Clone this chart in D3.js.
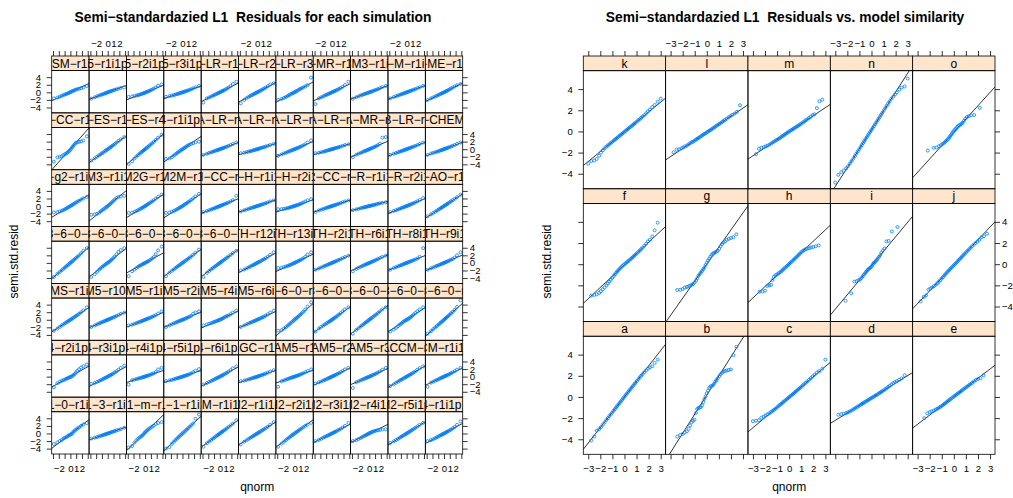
<!DOCTYPE html>
<html>
<head>
<meta charset="utf-8">
<script src="https://cdn.jsdelivr.net/npm/d3@7/dist/d3.min.js"></script>
<style>
  html, body { margin: 0; padding: 0; background: #fff; }
  svg text { font-family: "Liberation Sans", Arial, Helvetica, sans-serif; }
</style>
</head>
<body>
<svg id="fig" width="1013" height="498"></svg>
<script>
// Normal quantiles at which the sample quantiles of each panel are plotted
const qSim = [-2.85,-2.25,-1.85,-1.5,-1.22,-0.97,-0.74,-0.53,-0.34,-0.17,0,0.17,0.34,0.53,0.74,0.97,1.22,1.5,1.85,2.25,2.85];
const qGroup300 = [-3.0,-2.75,-2.5,-2.3,-2.1,-1.95,-1.8,-1.65,-1.5,-1.38,-1.26,-1.14,-1.02,-0.9,-0.8,-0.7,-0.6,-0.5,-0.4,-0.3,-0.2,-0.1,0,0.1,0.2,0.3,0.4,0.5,0.6,0.7,0.8,0.9,1.02,1.14,1.26,1.38,1.5,1.65,1.8,1.95,2.1,2.3,2.5,2.75,3.0];
const qGroup275 = [-2.75,-2.5,-2.3,-2.1,-1.95,-1.8,-1.65,-1.5,-1.38,-1.26,-1.14,-1.02,-0.9,-0.8,-0.7,-0.6,-0.5,-0.4,-0.3,-0.2,-0.1,0,0.1,0.2,0.3,0.4,0.5,0.6,0.7,0.8,0.9,1.02,1.14,1.26,1.38,1.5,1.65,1.8,1.95,2.1,2.3,2.5,2.75];
const qGroup245 = [-2.45,-2.2,-2.0,-1.82,-1.65,-1.5,-1.38,-1.26,-1.14,-1.02,-0.9,-0.8,-0.7,-0.6,-0.5,-0.4,-0.3,-0.2,-0.1,0,0.1,0.2,0.3,0.4,0.5,0.6,0.7,0.8,0.9,1.02,1.14,1.26,1.38,1.5,1.65,1.82,2.0,2.2,2.45];
const qGroup215 = [-2.15,-1.68,-1.42,-1.23,-1.08,-0.95,-0.83,-0.73,-0.63,-0.53,-0.45,-0.36,-0.28,-0.2,-0.12,-0.04,0.04,0.12,0.2,0.28,0.36,0.45,0.53,0.63,0.73,0.83,0.95,1.08,1.23,1.42,1.68,2.15];

// Simulations (panel order: bottom-left first, left to right, then upwards)
const simNames = [
  "ACCESS1-0-r1i1p1","ACCESS1-3-r1i1p1","bcc-csm1-1-m-r1i1p1","bcc-csm1-1-r1i1p1","BNU-ESM-r1i1p1","CanESM2-r1i1p1","CanESM2-r2i1p1","CanESM2-r3i1p1","CanESM2-r4i1p1","CanESM2-r5i1p1","CCSM4-r1i1p1",
  "CCSM4-r2i1p1","CCSM4-r3i1p1","CCSM4-r4i1p1","CCSM4-r5i1p1","CCSM4-r6i1p1","CESM1-BGC-r1i1p1","CESM1-CAM5-r1i1p1","CESM1-CAM5-r2i1p1","CESM1-CAM5-r3i1p1","CESM1-WACCM-r1i1p1","CMCC-CM-r1i1p1",
  "CMCC-CMS-r1i1p1","CNRM-CM5-r10i1p1","CNRM-CM5-r1i1p1","CNRM-CM5-r2i1p1","CNRM-CM5-r4i1p1","CNRM-CM5-r6i1p1","CSIRO-Mk3-6-0-r10i1p1","CSIRO-Mk3-6-0-r1i1p1","CSIRO-Mk3-6-0-r2i1p1","CSIRO-Mk3-6-0-r3i1p1","CSIRO-Mk3-6-0-r4i1p1",
  "CSIRO-Mk3-6-0-r5i1p1","CSIRO-Mk3-6-0-r6i1p1","CSIRO-Mk3-6-0-r7i1p1","CSIRO-Mk3-6-0-r8i1p1","CSIRO-Mk3-6-0-r9i1p1","EC-EARTH-r12i1p1","EC-EARTH-r13i1p1","EC-EARTH-r2i1p1","EC-EARTH-r6i1p1","EC-EARTH-r8i1p1","EC-EARTH-r9i1p1",
  "FGOALS-g2-r1i1p1","GFDL-CM3-r1i1p1","GFDL-ESM2G-r1i1p1","GFDL-ESM2M-r1i1p1","GISS-E2-H-CC-r1i1p1","GISS-E2-H-r1i1p1","GISS-E2-H-r2i1p1","GISS-E2-R-CC-r1i1p1","GISS-E2-R-r1i1p1","GISS-E2-R-r2i1p1","HadGEM2-AO-r1i1p1",
  "HadGEM2-CC-r1i1p1","HadGEM2-ES-r1i1p1","HadGEM2-ES-r4i1p1","inmcm4-r1i1p1","IPSL-CM5A-LR-r1i1p1","IPSL-CM5A-LR-r2i1p1","IPSL-CM5A-LR-r3i1p1","IPSL-CM5A-LR-r4i1p1","IPSL-CM5A-MR-r1i1p1","IPSL-CM5B-LR-r1i1p1","MIROC-ESM-CHEM-r1i1p1",
  "MIROC-ESM-r1i1p1","MIROC5-r1i1p1","MIROC5-r2i1p1","MIROC5-r3i1p1","MPI-ESM-LR-r1i1p1","MPI-ESM-LR-r2i1p1","MPI-ESM-LR-r3i1p1","MPI-ESM-MR-r1i1p1","MRI-CGCM3-r1i1p1","NorESM1-M-r1i1p1","NorESM1-ME-r1i1p1"
];

// Sorted semi-standardised residual quantiles of each simulation (at qSim)
const simResid = [
  [-2.8,-2.37,-2.0,-1.7,-1.4,-1.12,-1.0,-0.78,-0.55,-0.45,-0.3,-0.15,0.05,0.45,0.75,1.0,1.35,1.6,2.0,2.4,2.75],
  [-1.35,-1.1,-0.95,-0.78,-0.62,-0.5,-0.38,-0.28,-0.18,-0.1,0,0.09,0.18,0.28,0.4,0.52,0.65,0.8,0.95,1.15,1.5],
  [-3.7,-3.3,-2.4,-1.8,-1.4,-1.05,-0.85,-0.6,-0.3,0.0,0.3,0.55,0.8,1.05,1.3,1.55,1.8,2.1,2.5,2.75,3.0],
  [-4.0,-3.6,-2.75,-2.2,-1.75,-1.38,-1.05,-0.75,-0.48,-0.23,0.0,0.24,0.48,0.75,1.05,1.38,1.75,2.15,2.65,3.9,5.0],
  [-3.5,-2.6,-2.1,-1.72,-1.38,-1.1,-0.84,-0.6,-0.38,-0.19,0.0,0.18,0.37,0.58,0.82,1.08,1.38,1.72,2.12,2.6,3.5],
  [-2.9,-2.2,-1.8,-1.45,-1.17,-0.93,-0.7,-0.5,-0.32,-0.16,0.0,0.16,0.32,0.5,0.7,0.93,1.18,1.45,1.8,2.3,3.0],
  [-3.5,-2.7,-2.2,-1.75,-1.4,-1.1,-0.83,-0.6,-0.38,-0.19,0.0,0.19,0.38,0.6,0.83,1.08,1.35,1.65,2.0,2.35,2.8],
  [-2.0,-1.7,-1.4,-1.12,-0.9,-0.72,-0.55,-0.4,-0.26,-0.13,0.0,0.13,0.26,0.41,0.58,0.77,0.98,1.22,1.55,2.0,2.8],
  [-2.0,-1.75,-1.45,-1.2,-0.95,-0.75,-0.55,-0.38,-0.22,-0.08,0.05,0.18,0.3,0.42,0.55,0.67,0.78,0.88,0.98,1.05,1.1],
  [-2.5,-2.1,-1.75,-1.42,-1.15,-0.9,-0.68,-0.5,-0.32,-0.16,0.0,0.16,0.33,0.52,0.72,0.95,1.2,1.48,1.85,2.3,2.8],
  [-2.0,-1.75,-1.5,-1.22,-0.98,-0.78,-0.6,-0.43,-0.27,-0.13,0.0,0.14,0.28,0.44,0.62,0.82,1.05,1.32,1.7,2.3,3.2],
  [-2.8,-1.75,-1.35,-1.1,-0.92,-0.75,-0.6,-0.45,-0.32,-0.2,-0.1,0.0,0.15,0.4,0.7,1.1,1.5,1.95,2.4,2.75,3.2],
  [-1.9,-1.65,-1.4,-1.15,-0.95,-0.76,-0.58,-0.42,-0.27,-0.13,0.0,0.14,0.28,0.44,0.63,0.84,1.08,1.38,1.8,2.3,2.9],
  [-2.1,-0.95,-0.8,-0.65,-0.52,-0.42,-0.32,-0.22,-0.13,-0.05,0.03,0.12,0.2,0.3,0.42,0.55,0.7,0.88,1.2,1.9,2.3],
  [-1.2,-1.0,-0.85,-0.7,-0.57,-0.45,-0.35,-0.25,-0.16,-0.08,0.0,0.08,0.17,0.27,0.38,0.5,0.65,0.85,1.15,1.55,2.0],
  [-2.1,-1.7,-1.42,-1.15,-0.93,-0.74,-0.57,-0.41,-0.26,-0.13,0.0,0.13,0.27,0.42,0.6,0.8,1.02,1.3,1.7,2.2,2.7],
  [-1.2,-1.05,-0.88,-0.72,-0.59,-0.47,-0.36,-0.26,-0.17,-0.08,0.0,0.09,0.18,0.28,0.39,0.51,0.65,0.82,1.05,1.35,1.7],
  [-2.7,-1.2,-1.0,-0.8,-0.64,-0.5,-0.38,-0.27,-0.17,-0.08,0.0,0.09,0.18,0.28,0.4,0.53,0.7,0.9,1.15,1.5,1.9],
  [-1.8,-1.5,-1.28,-1.05,-0.85,-0.68,-0.52,-0.38,-0.24,-0.12,0.0,0.12,0.25,0.39,0.54,0.72,0.92,1.15,1.5,1.9,2.3],
  [-3.0,-1.5,-1.22,-0.98,-0.8,-0.63,-0.48,-0.34,-0.22,-0.11,0.0,0.11,0.22,0.35,0.5,0.66,0.85,1.08,1.4,1.85,2.3],
  [-2.5,-2.05,-1.65,-1.32,-1.06,-0.84,-0.64,-0.46,-0.29,-0.14,0.0,0.15,0.3,0.47,0.66,0.87,1.1,1.38,1.8,2.25,2.7],
  [-2.7,-1.6,-1.32,-1.08,-0.87,-0.69,-0.52,-0.37,-0.24,-0.12,0.0,0.12,0.24,0.38,0.53,0.7,0.9,1.13,1.45,1.85,2.3],
  [-2.9,-2.35,-1.9,-1.52,-1.22,-0.96,-0.73,-0.52,-0.33,-0.16,0.0,0.17,0.34,0.54,0.76,1.0,1.27,1.58,1.98,2.5,3.3],
  [-1.9,-1.5,-1.22,-0.98,-0.79,-0.63,-0.48,-0.34,-0.22,-0.11,0.0,0.11,0.22,0.34,0.48,0.63,0.8,1.0,1.25,1.55,1.9],
  [-1.5,-1.3,-1.1,-0.9,-0.73,-0.58,-0.44,-0.31,-0.2,-0.1,0.0,0.1,0.21,0.33,0.46,0.61,0.78,0.98,1.25,1.65,2.2],
  [-1.9,-1.45,-1.17,-0.94,-0.76,-0.6,-0.46,-0.33,-0.21,-0.1,0.0,0.1,0.21,0.33,0.47,0.63,0.82,1.05,1.6,1.95,2.2],
  [-1.5,-1.25,-1.05,-0.88,-0.72,-0.58,-0.45,-0.32,-0.2,-0.1,0.0,0.12,0.25,0.4,0.6,0.8,0.98,1.15,1.45,1.9,2.4],
  [-1.9,-1.5,-1.22,-0.99,-0.8,-0.64,-0.49,-0.35,-0.22,-0.11,0.0,0.11,0.23,0.36,0.51,0.68,0.88,1.12,1.45,1.9,2.4],
  [-2.9,-2.75,-2.35,-1.95,-1.6,-1.27,-0.97,-0.7,-0.45,-0.22,0.0,0.23,0.46,0.72,1.0,1.32,1.68,2.1,2.7,3.5,4.6],
  [-3.1,-2.3,-1.85,-1.5,-1.22,-0.98,-0.76,-0.55,-0.36,-0.18,0.0,0.18,0.37,0.58,0.82,1.08,1.38,1.72,2.2,2.75,3.3],
  [-3.7,-2.7,-2.2,-1.78,-1.44,-1.14,-0.87,-0.62,-0.4,-0.2,0.0,0.2,0.4,0.62,0.87,1.14,1.44,1.78,2.25,2.75,3.3],
  [-3.1,-2.6,-2.15,-1.7,-1.35,-1.05,-0.75,-0.5,-0.3,-0.15,0.0,0.15,0.3,0.5,0.75,1.05,1.38,1.78,2.25,2.75,3.3],
  [-3.7,-3.0,-2.45,-2.0,-1.63,-1.3,-0.99,-0.71,-0.46,-0.23,0.0,0.23,0.47,0.73,1.01,1.33,1.7,2.1,2.6,3.4,5.1],
  [-3.7,-2.9,-2.4,-1.95,-1.58,-1.25,-0.95,-0.68,-0.44,-0.22,0.0,0.22,0.45,0.7,0.97,1.28,1.62,2.0,2.55,3.2,3.9],
  [-3.7,-3.0,-2.35,-1.8,-1.4,-1.08,-0.8,-0.55,-0.33,-0.15,0.02,0.2,0.4,0.65,0.95,1.3,1.7,2.25,2.9,3.4,3.9],
  [-3.5,-2.2,-1.75,-1.35,-1.05,-0.8,-0.6,-0.42,-0.27,-0.13,0.0,0.14,0.28,0.44,0.63,0.85,1.2,1.55,2.3,3.3,4.3],
  [-3.5,-2.6,-2.1,-1.7,-1.37,-1.08,-0.82,-0.59,-0.38,-0.19,0.0,0.19,0.38,0.59,0.82,1.08,1.37,1.7,2.15,2.7,3.5],
  [-3.7,-2.65,-2.12,-1.7,-1.38,-1.09,-0.83,-0.6,-0.38,-0.19,0.0,0.19,0.38,0.59,0.82,1.07,1.35,1.67,2.1,2.6,3.2],
  [-2.0,-1.75,-1.45,-1.2,-0.98,-0.78,-0.59,-0.42,-0.27,-0.13,0.0,0.14,0.28,0.43,0.6,0.8,1.02,1.28,1.65,2.15,2.8],
  [-1.35,-1.25,-1.1,-0.95,-0.8,-0.66,-0.51,-0.37,-0.24,-0.12,0.0,0.12,0.25,0.39,0.55,0.73,0.94,1.2,1.6,2.2,2.8],
  [-1.8,-1.45,-1.2,-0.98,-0.79,-0.63,-0.48,-0.34,-0.22,-0.11,0.0,0.11,0.22,0.34,0.48,0.63,0.8,0.99,1.25,1.55,1.9],
  [-2.2,-1.6,-1.28,-1.02,-0.82,-0.65,-0.49,-0.35,-0.22,-0.11,0.0,0.11,0.22,0.35,0.49,0.65,0.82,1.02,1.3,1.6,1.9],
  [-1.8,-1.35,-1.12,-0.91,-0.74,-0.59,-0.45,-0.32,-0.2,-0.1,0.0,0.1,0.2,0.32,0.45,0.59,0.74,0.92,1.15,1.6,3.9],
  [-1.8,-1.42,-1.18,-0.96,-0.78,-0.62,-0.47,-0.34,-0.22,-0.11,0.0,0.11,0.22,0.35,0.49,0.65,0.83,1.05,1.4,2.0,2.8],
  [-1.67,-1.6,-1.45,-1.25,-1.05,-0.86,-0.67,-0.48,-0.31,-0.15,0.0,0.16,0.32,0.5,0.7,0.92,1.15,1.4,1.7,2.05,2.4],
  [-2.3,-2.2,-2.05,-1.75,-1.4,-1.1,-0.85,-0.62,-0.4,-0.2,0.0,0.22,0.45,0.7,1.0,1.35,1.7,2.1,2.4,2.55,2.7],
  [-1.8,-1.75,-1.55,-1.3,-1.08,-0.88,-0.68,-0.5,-0.33,-0.16,0.0,0.17,0.34,0.53,0.74,0.98,1.25,1.55,1.95,2.45,3.0],
  [-1.8,-1.7,-1.5,-1.28,-1.07,-0.87,-0.67,-0.49,-0.32,-0.16,0.0,0.17,0.35,0.55,0.78,1.02,1.3,1.62,2.05,2.55,3.2],
  [-1.6,-1.3,-1.1,-0.9,-0.73,-0.58,-0.44,-0.32,-0.2,-0.1,0.0,0.1,0.2,0.32,0.45,0.6,0.76,0.95,1.2,1.55,2.7],
  [-1.4,-1.12,-0.93,-0.75,-0.61,-0.49,-0.37,-0.27,-0.17,-0.09,0.0,0.09,0.17,0.27,0.37,0.49,0.62,0.77,0.98,1.22,1.5],
  [-0.82,-0.8,-0.75,-0.65,-0.55,-0.45,-0.35,-0.25,-0.15,-0.07,0.02,0.1,0.18,0.28,0.4,0.55,0.72,0.92,1.2,1.5,1.8],
  [-1.6,-1.15,-0.95,-0.77,-0.62,-0.49,-0.37,-0.27,-0.17,-0.08,0.0,0.09,0.17,0.27,0.37,0.49,0.62,0.77,0.98,1.22,1.5],
  [-1.1,-0.88,-0.72,-0.58,-0.47,-0.37,-0.28,-0.2,-0.13,-0.06,0.0,0.07,0.13,0.2,0.28,0.37,0.47,0.58,0.72,0.85,1.0],
  [-1.6,-1.3,-1.1,-0.9,-0.73,-0.58,-0.44,-0.32,-0.2,-0.1,0.0,0.1,0.21,0.33,0.46,0.61,0.78,0.98,1.25,1.6,2.1],
  [-2.7,-2.2,-1.82,-1.48,-1.2,-0.96,-0.73,-0.52,-0.34,-0.17,0.0,0.17,0.34,0.53,0.75,0.98,1.24,1.53,1.9,2.35,3.0],
  [-3.3,-2.15,-2.0,-1.9,-1.6,-1.35,-1.15,-0.95,-0.7,-0.45,-0.15,0.2,0.55,0.95,1.35,1.7,1.85,1.95,2.05,2.3,3.4],
  [-3.0,-2.4,-1.98,-1.62,-1.32,-1.06,-0.81,-0.58,-0.37,-0.18,0.0,0.18,0.37,0.58,0.82,1.08,1.38,1.72,2.15,2.6,3.2],
  [-3.9,-3.2,-2.45,-1.95,-1.55,-1.22,-0.93,-0.66,-0.42,-0.21,0.0,0.21,0.43,0.67,0.94,1.24,1.58,1.95,2.45,3.05,3.8],
  [-2.6,-2.45,-2.1,-1.7,-1.35,-1.05,-0.78,-0.55,-0.35,-0.17,0.0,0.17,0.35,0.55,0.78,1.0,1.2,1.4,1.6,1.8,2.0],
  [-1.5,-1.2,-0.99,-0.81,-0.66,-0.53,-0.41,-0.29,-0.19,-0.09,0.0,0.09,0.19,0.29,0.41,0.54,0.68,0.85,1.08,1.38,1.75],
  [-1.05,-0.92,-0.78,-0.65,-0.54,-0.44,-0.34,-0.24,-0.15,-0.07,0.0,0.08,0.16,0.25,0.35,0.46,0.58,0.72,0.9,1.12,1.4],
  [-1.75,-1.38,-1.13,-0.92,-0.74,-0.59,-0.45,-0.32,-0.2,-0.1,0.0,0.1,0.21,0.33,0.47,0.62,0.8,1.0,1.3,1.75,2.3],
  [-1.05,-0.95,-0.8,-0.67,-0.55,-0.44,-0.34,-0.24,-0.15,-0.07,0.0,0.08,0.16,0.24,0.34,0.44,0.56,0.7,0.88,1.08,1.3],
  [-2.1,-1.45,-1.2,-0.98,-0.79,-0.63,-0.48,-0.34,-0.22,-0.11,0.0,0.11,0.22,0.35,0.49,0.65,0.84,1.08,1.45,3.05,3.2],
  [-1.5,-1.22,-1.0,-0.82,-0.67,-0.53,-0.41,-0.29,-0.19,-0.09,0.0,0.1,0.19,0.3,0.42,0.55,0.69,0.86,1.08,1.38,1.75],
  [-1.5,-1.15,-0.97,-0.8,-0.66,-0.53,-0.41,-0.29,-0.19,-0.09,0.0,0.1,0.2,0.31,0.43,0.56,0.71,0.88,1.12,1.4,1.75],
  [-1.6,-1.4,-1.15,-0.93,-0.75,-0.6,-0.46,-0.33,-0.2,-0.08,0.05,0.18,0.3,0.43,0.58,0.72,0.85,0.97,1.1,1.3,1.67],
  [-1.67,-1.3,-1.05,-0.85,-0.7,-0.56,-0.43,-0.31,-0.2,-0.1,0.0,0.1,0.2,0.3,0.41,0.53,0.66,0.8,0.97,1.15,1.3],
  [-1.2,-1.1,-0.98,-0.85,-0.73,-0.62,-0.5,-0.39,-0.28,-0.18,-0.08,0.02,0.13,0.25,0.4,0.56,0.75,0.98,1.3,1.75,2.1],
  [-1.2,-1.0,-0.87,-0.72,-0.6,-0.48,-0.37,-0.27,-0.17,-0.08,0.0,0.09,0.18,0.28,0.39,0.51,0.65,0.82,1.05,1.35,1.7],
  [-2.7,-1.6,-1.35,-1.1,-0.9,-0.72,-0.55,-0.4,-0.26,-0.13,0.0,0.13,0.26,0.41,0.57,0.76,0.98,1.25,1.65,2.2,2.8],
  [-2.9,-2.0,-1.55,-1.22,-0.98,-0.78,-0.59,-0.42,-0.27,-0.13,0.0,0.14,0.28,0.43,0.6,0.8,1.02,1.28,1.65,2.05,2.4],
  [-2.0,-1.75,-1.5,-1.25,-1.0,-0.75,-0.55,-0.38,-0.22,-0.1,0.02,0.15,0.3,0.48,0.7,0.9,1.1,1.3,1.55,1.9,3.9],
  [-3.1,-1.6,-1.3,-1.06,-0.86,-0.68,-0.52,-0.37,-0.24,-0.12,0.0,0.12,0.24,0.38,0.53,0.7,0.9,1.13,1.45,1.95,2.8],
  [-1.7,-1.3,-1.03,-0.83,-0.67,-0.53,-0.41,-0.29,-0.19,-0.09,0.0,0.09,0.19,0.29,0.41,0.54,0.68,0.85,1.08,1.38,1.7],
  [-1.6,-1.25,-1.02,-0.84,-0.68,-0.55,-0.42,-0.3,-0.19,-0.09,0.01,0.1,0.2,0.3,0.42,0.55,0.7,0.86,1.08,1.35,1.7],
  [-2.0,-1.6,-1.32,-1.08,-0.88,-0.7,-0.54,-0.38,-0.24,-0.12,0.0,0.13,0.27,0.42,0.6,0.8,1.02,1.25,1.55,1.88,2.2]
];

// Model-similarity groups a..o (panel order: bottom-left first)
const groupNames = ["a","b","c","d","e","f","g","h","i","j","k","l","m","n","o"];
const groupGrid = ["275","245","300","275","245","275","245","245","215","275","300","275","275","300","215"];
const groupResid = [
  [-4.12,-3.74,-3.2,-3.05,-2.85,-2.62,-2.4,-2.18,-2.0,-1.82,-1.65,-1.48,-1.3,-1.15,-1.0,-0.86,-0.71,-0.57,-0.42,-0.27,-0.12,0.03,0.18,0.32,0.47,0.61,0.75,0.89,1.04,1.18,1.32,1.5,1.67,1.84,2.0,2.15,2.35,2.52,2.68,2.8,2.9,3.22,3.53],
  [-3.74,-3.6,-3.5,-3.35,-3.25,-3.0,-2.7,-2.4,-2.25,-2.15,-1.5,-1.15,-1.05,-1.0,-0.95,-0.8,-0.5,-0.2,0.05,0.35,0.6,0.85,0.98,1.05,1.1,1.25,1.45,1.58,1.75,1.95,2.15,2.28,2.4,2.46,2.5,2.55,2.6,3.95,4.74],
  [-2.29,-2.25,-2.2,-1.95,-1.85,-1.75,-1.65,-1.55,-1.42,-1.32,-1.22,-1.12,-1.0,-0.88,-0.78,-0.69,-0.6,-0.5,-0.4,-0.31,-0.21,-0.12,-0.02,0.08,0.17,0.27,0.36,0.46,0.56,0.66,0.76,0.86,0.98,1.1,1.22,1.35,1.47,1.62,1.78,1.95,2.1,2.3,2.45,2.68,3.53],
  [-1.68,-1.62,-1.58,-1.52,-1.45,-1.38,-1.28,-1.17,-1.08,-1.0,-0.92,-0.83,-0.74,-0.66,-0.59,-0.52,-0.45,-0.38,-0.31,-0.24,-0.17,-0.1,-0.03,0.04,0.11,0.18,0.25,0.32,0.4,0.47,0.55,0.64,0.74,0.84,0.95,1.05,1.18,1.3,1.4,1.5,1.62,1.75,2.05],
  [-2.0,-1.55,-1.43,-1.35,-1.28,-1.2,-1.12,-1.04,-0.95,-0.86,-0.76,-0.67,-0.58,-0.49,-0.4,-0.31,-0.22,-0.13,-0.04,0.04,0.13,0.21,0.3,0.38,0.47,0.55,0.64,0.73,0.82,0.92,1.02,1.12,1.22,1.32,1.45,1.6,1.7,1.78,2.05],
  [-2.97,-2.9,-2.85,-2.72,-2.55,-2.38,-2.2,-2.0,-1.82,-1.65,-1.47,-1.3,-1.12,-0.97,-0.82,-0.68,-0.55,-0.43,-0.31,-0.2,-0.1,0.0,0.1,0.19,0.28,0.38,0.48,0.58,0.68,0.79,0.9,1.02,1.15,1.28,1.42,1.56,1.74,1.94,2.15,2.3,2.62,3.2,3.92],
  [-2.44,-2.42,-2.35,-2.2,-2.15,-2.1,-2.02,-1.95,-1.88,-1.72,-1.55,-1.35,-1.12,-0.95,-0.8,-0.65,-0.48,-0.3,-0.08,0.15,0.35,0.52,0.7,0.88,1.0,1.05,1.12,1.2,1.27,1.45,1.7,1.9,2.05,2.15,2.3,2.4,2.48,2.55,2.82],
  [-2.6,-2.58,-2.5,-2.05,-2.0,-1.95,-1.5,-1.2,-1.05,-0.98,-0.88,-0.8,-0.72,-0.62,-0.5,-0.4,-0.3,-0.2,-0.1,0.02,0.13,0.23,0.34,0.45,0.56,0.67,0.78,0.9,1.02,1.15,1.26,1.35,1.43,1.48,1.52,1.58,1.63,1.7,1.78],
  [-3.45,-2.75,-1.65,-1.6,-1.52,-1.45,-1.3,-1.15,-1.0,-0.85,-0.72,-0.6,-0.5,-0.42,-0.35,-0.28,-0.15,0.0,0.12,0.2,0.3,0.42,0.55,0.7,0.88,1.1,1.3,1.48,2.15,2.2,3.1,3.51],
  [-3.51,-3.1,-2.95,-2.4,-2.3,-2.2,-2.08,-1.95,-1.82,-1.68,-1.53,-1.38,-1.22,-1.08,-0.95,-0.82,-0.7,-0.57,-0.45,-0.33,-0.22,-0.1,0.02,0.14,0.26,0.38,0.5,0.62,0.74,0.86,0.98,1.12,1.26,1.4,1.55,1.68,1.85,2.0,2.15,2.3,2.55,2.65,2.88],
  [-3.05,-2.8,-2.75,-2.6,-2.3,-2.0,-1.78,-1.6,-1.45,-1.33,-1.22,-1.1,-1.0,-0.88,-0.78,-0.69,-0.6,-0.5,-0.41,-0.32,-0.23,-0.13,-0.04,0.06,0.15,0.25,0.34,0.43,0.52,0.62,0.71,0.81,0.93,1.05,1.16,1.28,1.4,1.55,1.72,1.9,2.05,2.3,2.5,2.8,3.1],
  [-1.97,-1.72,-1.68,-1.6,-1.5,-1.42,-1.34,-1.22,-1.12,-1.02,-0.97,-0.88,-0.78,-0.7,-0.62,-0.55,-0.47,-0.39,-0.32,-0.24,-0.17,-0.09,-0.02,0.06,0.13,0.21,0.29,0.37,0.45,0.53,0.61,0.7,0.79,0.89,0.98,1.08,1.2,1.33,1.45,1.56,1.68,1.85,2.48],
  [-2.16,-1.63,-1.55,-1.48,-1.42,-1.35,-1.25,-1.15,-1.05,-0.97,-0.88,-0.8,-0.72,-0.64,-0.56,-0.48,-0.4,-0.32,-0.24,-0.16,-0.08,0.0,0.07,0.14,0.22,0.29,0.36,0.43,0.5,0.58,0.66,0.75,0.85,0.95,1.06,1.15,1.27,1.4,1.55,1.62,2.2,2.85,3.0],
  [-4.83,-4.1,-3.85,-3.7,-3.5,-3.3,-3.05,-2.8,-2.55,-2.32,-2.1,-1.9,-1.68,-1.47,-1.28,-1.1,-0.92,-0.74,-0.56,-0.38,-0.2,-0.02,0.15,0.33,0.5,0.68,0.86,1.04,1.22,1.4,1.58,1.76,1.98,2.2,2.42,2.63,2.85,3.1,3.3,3.5,3.7,3.95,4.15,4.25,5.0],
  [-1.81,-1.55,-1.52,-1.4,-1.3,-1.2,-1.1,-1.0,-0.88,-0.78,-0.68,-0.55,-0.42,-0.28,-0.15,0.0,0.1,0.2,0.3,0.4,0.5,0.58,0.65,0.72,0.82,1.0,1.2,1.35,1.45,1.52,1.55,2.23]
];

const xTicks = [-3, -2, -1, 0, 1, 2, 3];
const simXLabels = [-2, 0, 1, 2];
const groupXLabels = [-3, -2, -1, 0, 1, 2, 3];
const yTicks = [-4, -2, 0, 2, 4];

const gridByName = { "300": qGroup300, "275": qGroup275, "245": qGroup245, "215": qGroup215 };
const minus = s => String(s).replace(/-/g, "\u2212");

// Line through the first and third quartiles (as in qqline)
function quartileLine(q, v) {
  const at = t => {
    let i = d3.bisectRight(q, t) - 1;
    i = Math.max(0, Math.min(q.length - 2, i));
    return v[i] + (v[i + 1] - v[i]) * (t - q[i]) / (q[i + 1] - q[i]);
  };
  const z = 0.6744898;
  const lo = at(-z), hi = at(z);
  return { slope: (hi - lo) / (2 * z), icpt: (hi + lo) / 2 };
}

const svg = d3.select("#fig");
const defs = svg.append("defs");

function styleAxis(g) {
  g.select(".domain").remove();
  g.selectAll(".tick line").attr("stroke", "#000").attr("stroke-width", 0.8);
  g.selectAll(".tick text").attr("fill", "#000").attr("font-size", 9.6);
}

function lattice(cfg) {
  const cw = (cfg.x1 - cfg.x0) / cfg.ncol;
  const rh = (cfg.y1 - cfg.y0) / cfg.nrow;
  const colScale = c => d3.scaleLinear().domain(cfg.xDomain).range([cfg.x0 + c * cw, cfg.x0 + (c + 1) * cw]);
  const rowScale = r => d3.scaleLinear().domain(cfg.yDomain).range([cfg.y0 + (r + 1) * rh, cfg.y0 + r * rh + cfg.stripH]);
  const root = svg.append("g");

  cfg.panels.forEach((p, i) => {
    const c = i % cfg.ncol, r = cfg.nrow - 1 - Math.floor(i / cfg.ncol);
    const x = colScale(c), y = rowScale(r);
    const [px0, px1] = x.range();
    const [py1, py0] = y.range();
    const sy0 = cfg.y0 + r * rh;
    const pid = cfg.id + i;
    defs.append("clipPath").attr("id", "p" + pid).append("rect")
      .attr("x", px0).attr("y", py0).attr("width", px1 - px0).attr("height", py1 - py0);
    defs.append("clipPath").attr("id", "s" + pid).append("rect")
      .attr("x", px0).attr("y", sy0).attr("width", px1 - px0).attr("height", cfg.stripH);

    const g = root.append("g");
    g.append("rect").attr("x", px0).attr("y", sy0).attr("width", px1 - px0).attr("height", cfg.stripH)
      .attr("fill", "#ffe5cc").attr("stroke", "#000").attr("stroke-width", 0.8);
    g.append("text").attr("clip-path", `url(#s${pid})`)
      .attr("x", (px0 + px1) / 2 - cfg.stripShift).attr("y", sy0 + cfg.stripH / 2).attr("dy", "0.36em")
      .attr("text-anchor", "middle").attr("font-size", 12).attr("fill", "#000")
      .text(minus(p.label));

    const body = g.append("g").attr("clip-path", `url(#p${pid})`);
    const ln = quartileLine(p.q, p.v);
    const [xa, xb] = cfg.xDomain;
    body.append("line")
      .attr("x1", x(xa)).attr("y1", y(ln.icpt + ln.slope * xa))
      .attr("x2", x(xb)).attr("y2", y(ln.icpt + ln.slope * xb))
      .attr("stroke", "#000").attr("stroke-width", 0.8);
    body.append("g").selectAll("circle").data(d3.zip(p.q, p.v)).join("circle")
      .attr("cx", d => x(d[0])).attr("cy", d => y(d[1])).attr("r", cfg.r)
      .attr("fill", "none").attr("stroke", "#0080ff").attr("stroke-width", 0.8);

    g.append("rect").attr("x", px0).attr("y", py0).attr("width", px1 - px0).attr("height", py1 - py0)
      .attr("fill", "none").attr("stroke", "#000").attr("stroke-width", 0.8);
  });

  for (let c = 0; c < cfg.ncol; c++) {
    const x = colScale(c);
    const fmt = show => d => (show && cfg.xLabels.includes(d)) ? minus(d) : "";
    root.append("g").attr("transform", `translate(0,${cfg.y0})`)
      .call(d3.axisTop(x).tickValues(xTicks).tickSize(5).tickPadding(4).tickFormat(fmt(c % 2 === 1)))
      .call(styleAxis);
    root.append("g").attr("transform", `translate(0,${cfg.y1})`)
      .call(d3.axisBottom(x).tickValues(xTicks).tickSize(5).tickPadding(6).tickFormat(fmt(c % 2 === 0)))
      .call(styleAxis);
  }
  for (let r = 0; r < cfg.nrow; r++) {
    const y = rowScale(r);
    const fromBottom = cfg.nrow - 1 - r;
    const fmt = show => d => show ? minus(d) : "";
    root.append("g").attr("transform", `translate(${cfg.x0},0)`)
      .call(d3.axisLeft(y).tickValues(yTicks).tickSize(5).tickPadding(5.5).tickFormat(fmt(fromBottom % 2 === 0)))
      .call(styleAxis);
    root.append("g").attr("transform", `translate(${cfg.x1},0)`)
      .call(d3.axisRight(y).tickValues(yTicks).tickSize(5).tickPadding(2).tickFormat(fmt(fromBottom % 2 === 1)))
      .call(styleAxis);
  }

  root.append("text").attr("x", cfg.titleX).attr("y", 22).attr("text-anchor", "middle")
    .attr("font-size", 13.8).attr("font-weight", "bold").style("white-space", "pre").text(cfg.title);
  root.append("text").attr("x", (cfg.x0 + cfg.x1) / 2).attr("y", 491).attr("text-anchor", "middle")
    .attr("font-size", 12).text("qnorm");
  root.append("text").attr("transform", `translate(${cfg.ylabX},261.5) rotate(-90)`)
    .attr("text-anchor", "middle").attr("font-size", 12).text("semi.std.resid");
}

lattice({
  id: "sim", x0: 51.7, x1: 462.7, y0: 56, y1: 454, ncol: 11, nrow: 7, stripH: 14.6, stripShift: 17,
  xDomain: [-3.23, 3.23], yDomain: [-5.42, 5.74], r: 1.5, xLabels: simXLabels,
  panels: simNames.map((n, i) => ({ label: n, q: qSim, v: simResid[i] })),
  title: "Semi\u2212standardazied L1  Residuals for each simulation", titleX: 253, ylabX: 17.5
});

lattice({
  id: "grp", x0: 583.3, x1: 995, y0: 56, y1: 454.3, ncol: 5, nrow: 3, stripH: 14.7, stripShift: 0,
  xDomain: [-3.41, 3.41], yDomain: [-5.42, 5.74], r: 1.5, xLabels: groupXLabels,
  panels: groupNames.map((n, i) => ({ label: n, q: gridByName[groupGrid[i]], v: groupResid[i] })),
  title: "Semi\u2212standardazied L1  Residuals vs. model similarity", titleX: 785, ylabX: 550.5
});
</script>
</body>
</html>
